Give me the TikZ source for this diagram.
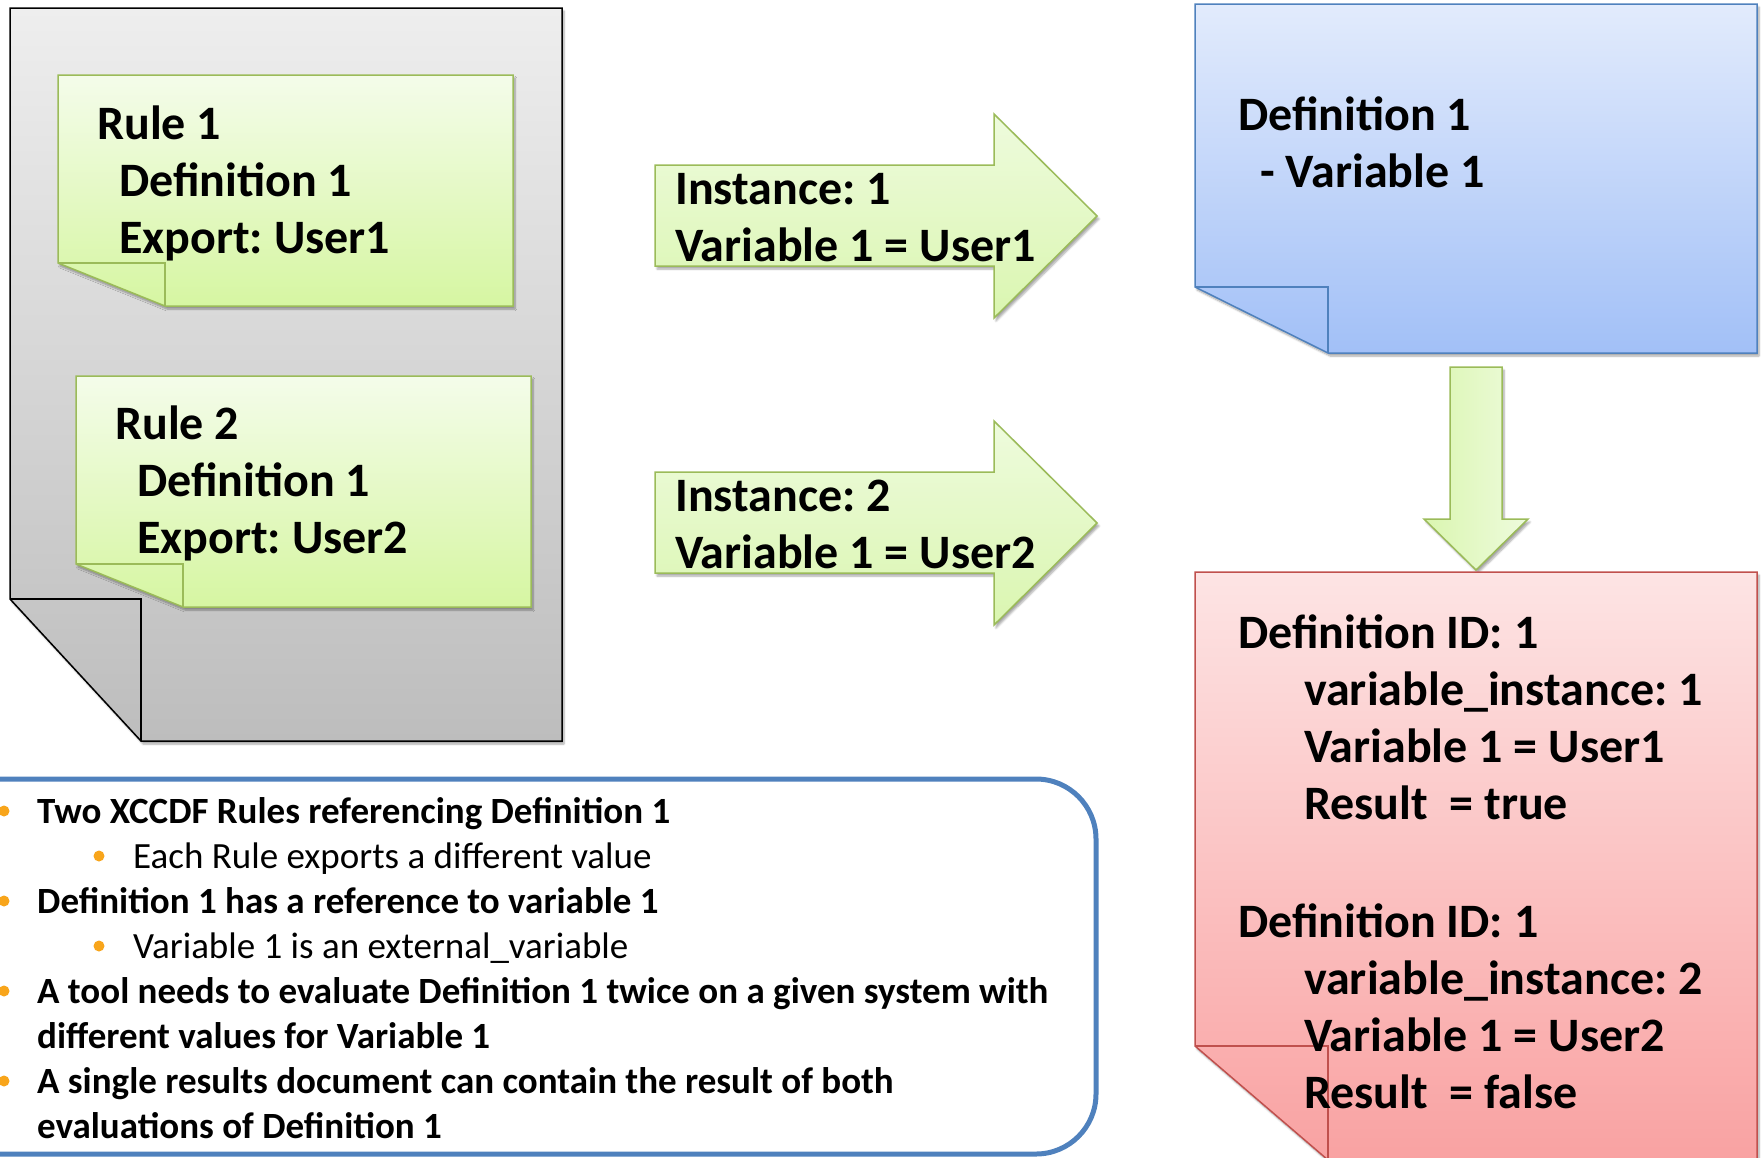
\documentclass[tikz,border=0pt]{standalone}
\usepackage{fontspec}
\setmainfont{Carlito}
\frenchspacing
\usetikzlibrary{shadows.blur}

\definecolor{pagetop}{HTML}{EEEEEE}
\definecolor{pagebot}{HTML}{BDBDBD}
\definecolor{greenline}{HTML}{9BBB59}
\definecolor{greentop}{HTML}{F4FCEA}
\definecolor{greenbot}{HTML}{D6F6A2}
\definecolor{arrowtop}{HTML}{EEFBDD}
\definecolor{arrowbot}{HTML}{DAF6B0}
\definecolor{blueline}{HTML}{4F81BD}
\definecolor{bluetop}{HTML}{E2EBFC}
\definecolor{bluebot}{HTML}{A2C0F7}
\definecolor{redline}{HTML}{C0504D}
\definecolor{redtop}{HTML}{FDE4E4}
\definecolor{redbot}{HTML}{F9A2A2}
\definecolor{bulletcol}{HTML}{F8A51B}

\tikzset{
  softshadow/.style={blur shadow={shadow xshift=2pt,shadow yshift=-3pt,shadow blur steps=6,shadow opacity=35}},
  pagebox/.style={draw=black,line width=1.5pt,top color=pagetop,bottom color=pagebot,softshadow},
  greennote/.style={draw=greenline,line width=1.5pt,top color=greentop,bottom color=greenbot,softshadow},
  greenarrow/.style={draw=greenline,line width=1.5pt,top color=arrowtop,bottom color=arrowbot,softshadow},
  downarrow/.style={draw=greenline,line width=1.5pt,left color=arrowbot,right color=arrowtop,softshadow},
  bluenote/.style={draw=blueline,line width=1.5pt,top color=bluetop,bottom color=bluebot,softshadow},
  rednote/.style={draw=redline,line width=1.5pt,top color=redtop,bottom color=redbot,softshadow},
  listbox/.style={draw=blueline,line width=5pt,rounded corners=60pt,fill=white},
  % base anchor = baseline of the last line
  bigtext/.style={font=\fontsize{48}{57}\selectfont\bfseries,align=left,anchor=base west,inner sep=0pt},
  listtext/.style={font=\fontsize{37}{45}\selectfont,align=left,anchor=base west,inner sep=0pt}
}

\begin{document}
\begin{tikzpicture}[x=1pt,y=-1pt]
\useasboundingbox (0,0) rectangle (1763,1157);
\clip (0,0) rectangle (1763,1157);

% document with two rules
\path[pagebox] (10,8) -- (562,8) -- (562,741) -- (141,741) -- (10,599) -- cycle;
\draw[line width=1.5pt] (10,599) -- (141,599) -- (141,741);
\path[greennote] (58,75) -- (513,75) -- (513,306) -- (165,306) -- (58,263) -- cycle;
\draw[greenline,line width=1.5pt] (58,263) -- (165,263) -- (165,306);
\path[greennote] (76,376) -- (531,376) -- (531,607) -- (183,607) -- (76,564) -- cycle;
\draw[greenline,line width=1.5pt] (76,564) -- (183,564) -- (183,607);
\node[bigtext] (rulea) at (97,253) {Rule 1\\\hspace*{22pt}Definition 1\\\hspace*{22pt}Export: User1};
\node[bigtext] (ruleb) at (115,553) {Rule 2\\\hspace*{22pt}Definition 1\\\hspace*{22pt}Export: User2};

% instance arrows
\path[greenarrow] (655,165) -- (994,165) -- (994,114) -- (1097,216) -- (994,318) -- (994,266) -- (655,266) -- cycle;
\path[greenarrow] (655,472) -- (994,472) -- (994,421) -- (1097,523) -- (994,625) -- (994,573) -- (655,573) -- cycle;
\node[bigtext] (insta) at (675,261) {Instance: 1\\Variable 1 = User1};
\node[bigtext] (instb) at (675,568) {Instance: 2\\Variable 1 = User2};

% definition
\path[bluenote] (1195,4) -- (1757,4) -- (1757,353) -- (1328,353) -- (1195,287) -- cycle;
\draw[blueline,line width=1.5pt] (1195,287) -- (1328,287) -- (1328,353);
\node[bigtext] (defn) at (1238,187) {Definition 1\\\hspace*{22pt}- Variable 1};
\path[downarrow] (1450,367) -- (1502,367) -- (1502,519) -- (1528,519) -- (1476,570) -- (1424,519) -- (1450,519) -- cycle;

% results
\path[rednote] (1195,572) -- (1757,572) -- (1757,1160) -- (1328,1160) -- (1195,1046) -- cycle;
\draw[redline,line width=1.5pt] (1195,1046) -- (1328,1046) -- (1328,1160);
\node[bigtext] (result) at (1238,1108) {Definition ID: 1\\
  \hspace*{66pt}variable\_instance: 1\\
  \hspace*{66pt}Variable 1 = User1\\
  \hspace*{66pt}Result~~= true\\[61pt]
  Definition ID: 1\\
  \hspace*{66pt}variable\_instance: 2\\
  \hspace*{66pt}Variable 1 = User2\\
  \hspace*{66pt}Result~~= false};

% notes
\path[listbox] (-100,779) rectangle (1096,1154);
\foreach \bx/\by in {4/811,99/856,4/901,99/946,4/991,4/1081}
  \fill[bulletcol] (\bx,\by) circle (5.5);
\node[listtext] (notes) at (37,1138) {\textbf{Two XCCDF Rules referencing Definition 1}\\
  \hspace*{96pt}Each Rule exports a different value\\
  \textbf{Definition 1 has a reference to variable 1}\\
  \hspace*{96pt}Variable 1 is an external\_variable\\
  \textbf{A tool needs to evaluate Definition 1 twice on a given system with}\\
  \textbf{different values for Variable 1}\\
  \textbf{A single results document can contain the result of both}\\
  \textbf{evaluations of Definition 1}};
\end{tikzpicture}
\end{document}
